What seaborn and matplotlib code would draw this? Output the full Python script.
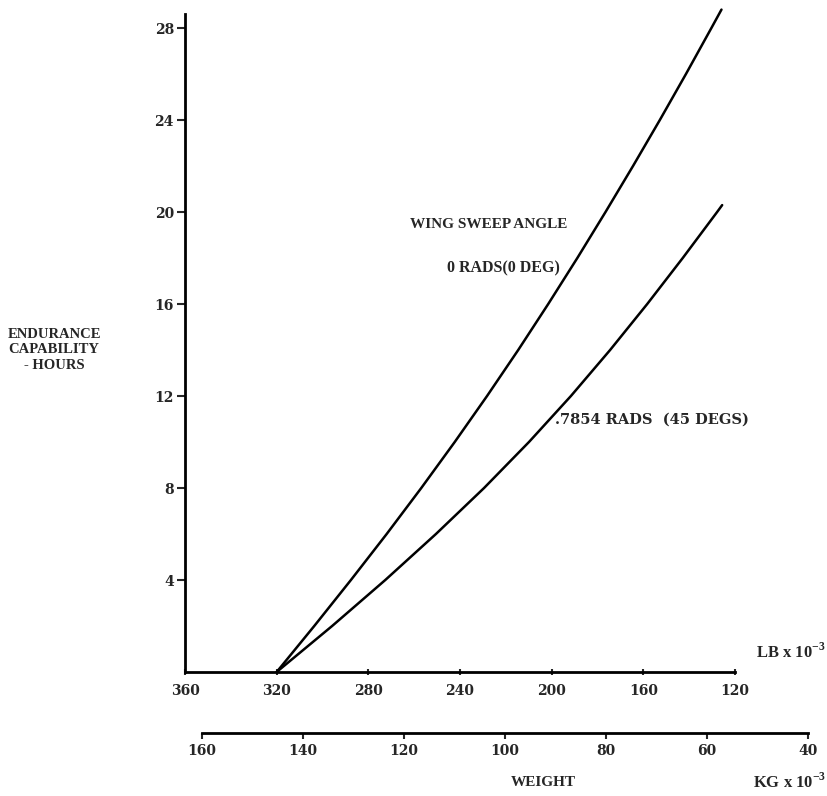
import matplotlib
matplotlib.use("Agg")
import matplotlib.pyplot as plt
import pandas as pd
import seaborn as sns

LB_PER_KG = 2.20462

# endurance (hours) against gross weight (lb x 10^-3)
hours_0deg = [0, 2, 4, 6, 8, 10, 12, 14, 16, 18, 20, 22, 24, 26, 28, 28.8]
weight_0deg = [320, 303.6, 287.6, 272.0, 256.9, 242.3, 228.2, 214.6, 201.5,
               188.8, 176.5, 164.5, 152.8, 141.4, 130.3, 125.9]
hours_45deg = [0, 2, 4, 6, 8, 10, 12, 14, 16, 18, 20, 20.3]
weight_45deg = [320, 295.8, 272.6, 250.5, 229.5, 209.9, 191.6, 174.5, 158.3,
                142.8, 127.8, 125.6]

lb_ticks = [360, 320, 280, 240, 200, 160, 120]
kg_ticks = [160, 140, 120, 100, 80, 60, 40]
hour_ticks = [4, 8, 12, 16, 20, 24, 28]

sns.set_style("white")
plt.rcParams["font.family"] = ["Liberation Serif", "DejaVu Serif"]
plt.rcParams["font.weight"] = "bold"
plt.rcParams["mathtext.fontset"] = "custom"
plt.rcParams["mathtext.rm"] = "Liberation Serif:bold"

TICK_FONT = {"family": "DejaVu Serif", "weight": "bold", "size": 10}
TS = 11
W, H = 827, 796
fig = plt.figure(figsize=(W / 100, H / 100), dpi=100)

# main axes: LB scale on x (reversed), hours on y
ax_l, ax_b, ax_w, ax_h = 185 / W, 124 / H, 550 / W, 671.6 / H
ax = fig.add_axes([ax_l, ax_b, ax_w, ax_h])

df = pd.concat([
    pd.DataFrame({"weight": weight_0deg, "hours": hours_0deg, "sweep": "0"}),
    pd.DataFrame({"weight": weight_45deg, "hours": hours_45deg, "sweep": "45"}),
])
sns.lineplot(data=df, x="weight", y="hours", hue="sweep", palette=["black", "black"],
             sort=False, estimator=None, lw=1.8, legend=False, ax=ax, clip_on=False)

ax.set_xlim(360, 120)
ax.set_ylim(0, 29.2)
ax.set_xlabel("")
ax.set_ylabel("")
for s in ("top", "right"):
    ax.spines[s].set_visible(False)
for s in ("left", "bottom"):
    ax.spines[s].set_linewidth(2)
    ax.spines[s].set_color("black")
ax.spines["left"].set_bounds(0, 28.6)

ax.set_yticks(hour_ticks)
ax.set_yticklabels([str(t) for t in hour_ticks], fontdict=TICK_FONT)
ax.set_xticks(lb_ticks)
ax.set_xticklabels([str(t) for t in lb_ticks], fontdict=TICK_FONT)
ax.tick_params(axis="y", direction="out", length=6, width=1.5, pad=2, left=True)
ax.tick_params(axis="x", direction="inout", length=5, width=1.5, pad=6, bottom=True)

# KG scale, placed so it lines up with the LB scale
def lb_to_fig(lb):
    return ax_l + (360 - lb) / 240 * ax_w

kg_left = lb_to_fig(160 * LB_PER_KG)
kg_right = lb_to_fig(40 * LB_PER_KG)
kax = fig.add_axes([kg_left, 63 / H, kg_right - kg_left, 0.0001])
kax.set_xlim(160, 40)
kax.set_yticks([])
for s in ("top", "right", "left"):
    kax.spines[s].set_visible(False)
kax.spines["bottom"].set_linewidth(2)
kax.spines["bottom"].set_color("black")
kax.set_xticks(kg_ticks)
kax.set_xticklabels([str(t) for t in kg_ticks], fontdict=TICK_FONT)
kax.tick_params(axis="x", direction="out", length=4, width=1.5, pad=4, bottom=True)
kax.patch.set_alpha(0)

# annotations
fig.text(54 / W, 1 - 350 / H, "ENDURANCE\nCAPABILITY\n- HOURS", ha="center", va="center",
         fontsize=10.5, linespacing=1.25)
fig.text(410 / W, 1 - 225 / H, "WING SWEEP ANGLE", ha="left", va="center", fontsize=TS)
fig.text(560 / W, 1 - 268 / H, "0 RADS(0 DEG)", ha="right", va="center", fontsize=11.5)
fig.text(555 / W, 1 - 420 / H, ".7854 RADS  (45 DEGS)", ha="left", va="center",
         fontsize=10.5, family="DejaVu Serif")
fig.text(826 / W, 1 - 652 / H, r"LB x 10$^{-3}$", ha="right", va="center", fontsize=12)
fig.text(543 / W, 1 - 783 / H, "WEIGHT", ha="center", va="center", fontsize=TS)
fig.text(826 / W, 1 - 782 / H, r"KG x 10$^{-3}$", ha="right", va="center", fontsize=12)

fig.savefig("out.png", dpi=100)
